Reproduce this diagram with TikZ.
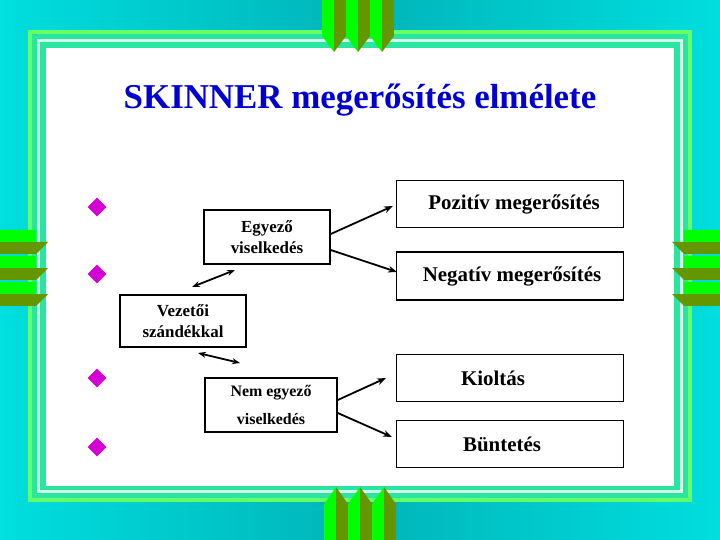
\documentclass[tikz,border=0pt]{standalone}
\usepackage{fontspec}
\setmainfont{Liberation Serif}
\usetikzlibrary{arrows.meta}
\definecolor{teal1}{RGB}{0,180,185}
\definecolor{aqua1}{RGB}{0,222,222}
\definecolor{lgreen}{RGB}{0,255,0}
\definecolor{dgreen}{RGB}{100,150,0}
\definecolor{mint}{RGB}{40,230,160}
\definecolor{titleblue}{RGB}{0,0,210}
\definecolor{bullet}{RGB}{210,0,210}
\tikzset{
  box/.style={draw, line width=1.5pt, inner sep=0pt},
  smalltxt/.style={font=\fontsize{17}{21}\selectfont\bfseries, align=center},
  bigtxt/.style={font=\fontsize{21}{26}\selectfont\bfseries},
  link/.style={line width=1.8pt, -{Stealth[length=9pt]}},
  twoway/.style={line width=1.8pt, {Stealth[length=8pt]}-{Stealth[length=8pt]}},
  bul/.style={fill=bullet, minimum size=19pt, inner sep=0pt, diamond, shape aspect=1}
}
\usetikzlibrary{shapes.geometric}
\begin{document}
\begin{tikzpicture}[x=1bp,y=-1bp]
\useasboundingbox (0,0) rectangle (720,540);
% background
\shade[left color=aqua1, right color=aqua1, middle color=teal1] (0,0) rectangle (720,540);
\fill[lgreen!60!white] (28,30) rectangle (692,502);
\fill[mint] (32,34) rectangle (688,498);
\fill[white!80!mint] (37,39) rectangle (683,493);
\fill[mint] (40,42) rectangle (680,490);
\fill[white] (46,48) rectangle (674,486);
% chevrons
\foreach \i in {0,1,2}{
  \fill[lgreen] (322+\i*24,0) rectangle (334+\i*24,36) -- (334+\i*24,52) -- (322+\i*24,36) -- cycle;
  \fill[dgreen] (334+\i*24,0) rectangle (346+\i*24,36);
  \fill[dgreen] (334+\i*24,36) -- (346+\i*24,36) -- (334+\i*24,52) -- cycle;
  \fill[lgreen] (324+\i*24,540) rectangle (336+\i*24,504) -- (336+\i*24,487) -- (324+\i*24,504) -- cycle;
  \fill[dgreen] (336+\i*24,540) rectangle (348+\i*24,504);
  \fill[dgreen] (336+\i*24,504) -- (348+\i*24,504) -- (336+\i*24,487) -- cycle;
  \fill[lgreen] (0,230+\i*26) rectangle (36,242+\i*26) -- (48,242+\i*26) -- cycle;
  \fill[dgreen] (0,242+\i*26) rectangle (36,254+\i*26);
  \fill[dgreen] (36,242+\i*26) -- (48,242+\i*26) -- (36,254+\i*26) -- cycle;
  \fill[lgreen] (720,230+\i*26) rectangle (684,242+\i*26) -- (672,242+\i*26) -- cycle;
  \fill[dgreen] (720,242+\i*26) rectangle (684,254+\i*26);
  \fill[dgreen] (684,242+\i*26) -- (672,242+\i*26) -- (684,254+\i*26) -- cycle;
}
% title
\node[text=titleblue, font=\fontsize{35}{40}\selectfont\bfseries] (title) at (360,100) {SKINNER megerősítés elmélete};
% bullets
\node[bul] (b1) at (97,207) {};
\node[bul] (b2) at (97,274) {};
\node[bul] (b3) at (97,378) {};
\node[bul] (b4) at (97,447) {};
% boxes
\node[box, minimum width=126bp, minimum height=54bp, smalltxt] (egy) at (267,237) {Egyező\\viselkedés};
\node[box, minimum width=126bp, minimum height=52bp, smalltxt] (vez) at (183,321) {Vezetői\\szándékkal};
\node[box, minimum width=132bp, minimum height=54bp, smalltxt, font=\fontsize{16}{28}\selectfont\bfseries] (nem) at (271,405) {Nem egyező\\viselkedés};
\node[box, minimum width=227bp, minimum height=47bp, bigtxt] (poz) at (510,204) {\hspace{8bp}Pozitív megerősítés};
\node[box, minimum width=227bp, minimum height=48bp, bigtxt] (neg) at (510,276) {\hspace{4bp}Negatív megerősítés};
\node[box, minimum width=227bp, minimum height=47bp, bigtxt] (kio) at (510,378) {\hspace{-34bp}Kioltás};
\node[box, minimum width=227bp, minimum height=47bp, bigtxt] (bun) at (510,444) {\hspace{-16bp}Büntetés};
% connectors
\coordinate (p1) at (393,206);
\coordinate (p2) at (397,272);
\coordinate (k1) at (386,378);
\coordinate (k2) at (392,437);
\coordinate (d1) at (192,287);
\coordinate (d2) at (235,270);
\coordinate (d3) at (198,353);
\coordinate (d4) at (240,363);
\draw[link] (egy.east |- 0,234) -- (p1);
\draw[link] (egy.east |- 0,250) -- (p2);
\draw[link] (nem.east |- 0,400) -- (k1);
\draw[link] (nem.east |- 0,413) -- (k2);
\draw[twoway] (d1) -- (d2);
\draw[twoway] (d3) -- (d4);
\end{tikzpicture}
\end{document}
